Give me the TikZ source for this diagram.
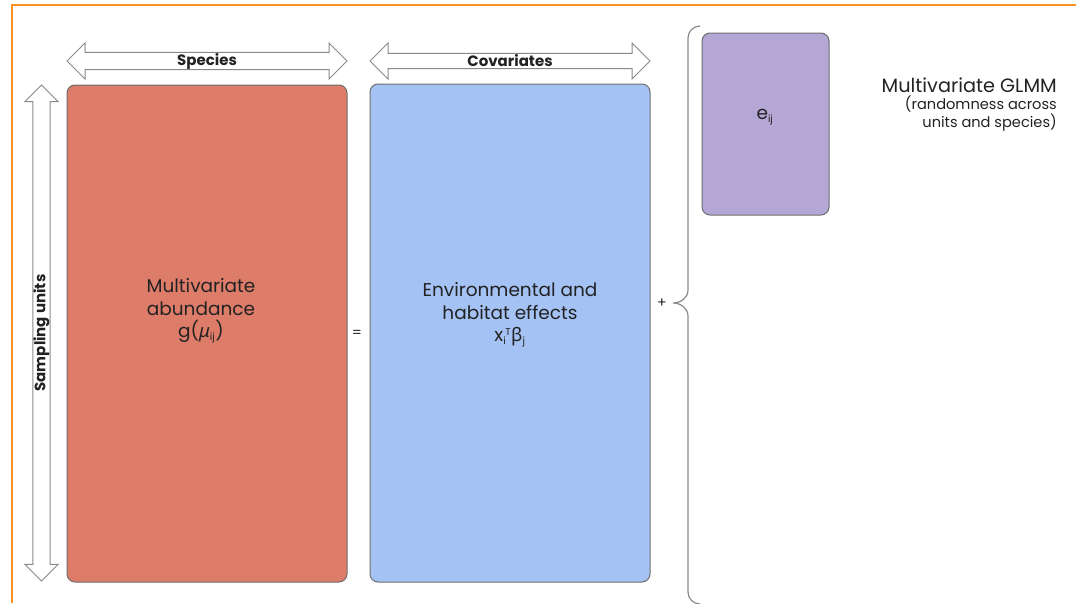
\documentclass[tikz,border=0pt]{standalone}
\usepackage{amsmath}
\usepackage{fontspec}
\setmainfont{Poppins}
\newfontfamily\greekfont{Noto Sans}
\usepackage{tikz}
\usetikzlibrary{shapes.arrows}
\definecolor{framecol}{HTML}{F7931E}
\definecolor{redbox}{HTML}{DE7C6A}
\definecolor{bluebox}{HTML}{A4C2F4}
\definecolor{purplebox}{HTML}{B4A7D6}
\definecolor{edgegray}{HTML}{6E6E6E}
\definecolor{arrowgray}{HTML}{8A8A8A}
\definecolor{textcol}{HTML}{222222}
\newcommand{\smallidx}{\fontsize{10}{10}\selectfont}
\tikzstyle{matbox} = [rectangle, rounded corners=8pt, draw=edgegray, line width=1pt, inner sep=0pt]
\tikzstyle{blockarrow} = [double arrow, draw=arrowgray, fill=white, line width=1pt, inner sep=0pt, double arrow head extend=9pt, minimum width=36pt, text=textcol, font=\fontsize{15}{17}\selectfont\bfseries]
\tikzstyle{boxtext} = [align=center, text=textcol, font=\fontsize{18.5}{22.5}\selectfont, inner sep=0pt]
\tikzstyle{sidetext} = [align=right, text=textcol, inner sep=0pt]

\begin{document}
\begin{tikzpicture}[x=1pt, y=-1pt]

        \useasboundingbox (0,0) rectangle (1076,603);

        % orange frame
        \draw[framecol, line width=2pt] (12,603) -- (12,5) -- (1076,5);

        \node (species) [blockarrow, minimum height=280pt] at (207,61) {Species};
        \node (covariates) [blockarrow, minimum height=280pt] at (510,61) {Covariates};
        \node (units) [blockarrow, minimum height=496pt, minimum width=33pt, double arrow head extend=8pt, rotate=90] at (41.5,333) {Sampling units};

        \node (abundance) [matbox, fill=redbox, minimum width=280pt, minimum height=497pt] at (207,333.5) {};
        \node (effects) [matbox, fill=bluebox, minimum width=280pt, minimum height=498pt] at (510,333) {};
        \node (residual) [matbox, fill=purplebox, minimum width=127pt, minimum height=182pt] at (765.5,124) {};

        \node (abundancetext) [boxtext] at (201,311) {Multivariate\\abundance\\g({\greekfont\itshape μ}\textsubscript{\smallidx ij})};
        \node (effectstext) [boxtext] at (510,315) {Environmental and\\habitat effects\\x\textsubscript{\smallidx i}\hspace{-1pt}\textsuperscript{\smallidx T}{\greekfont β}\textsubscript{\smallidx j}};
        \node (residualtext) [boxtext] at (765,117) {e\textsubscript{\smallidx ij}};

        \node (equals) [boxtext, font=\fontsize{14}{16}\selectfont] at (357,334) {=};
        \node (plus) [boxtext, font=\fontsize{14}{16}\selectfont] at (662,303) {+};

        % brace
        \draw[arrowgray, line width=1.2pt] (700,26) to[out=180, in=90] (688,38) -- (688,290)
            to[out=-90, in=0] (673,303) to[out=0, in=90] (688,316) -- (688,592) to[out=-90, in=180] (700,604);

        \node (glmm) [sidetext, anchor=north east] at (1057,78) {{\fontsize{19.3}{17}\selectfont Multivariate GLMM}\\[2pt]
            {\fontsize{14.6}{17}\selectfont (randomness across}\\{\fontsize{14.6}{17}\selectfont units and species)}};

    \end{tikzpicture}
\end{document}
